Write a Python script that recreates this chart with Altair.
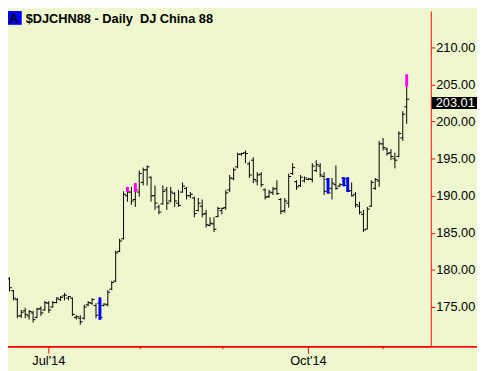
import json
import altair as alt
import pandas as pd

# ---- OHLC data (daily bars) ----
opens = [176.0, 177.6, 178.8, 177.2, 176.0, 173.8, 174.5, 173.8, 174.2, 173.6,
         174.8, 174.6, 175.5, 175.0, 175.6, 176.0, 176.5, 176.2, 176.2, 173.6,
         173.5, 173.5, 175.3, 175.5, 175.2, 175.5, 175.2, 175.3, 177.4, 178.5,
         182.5, 184.2, 190.0, 190.5, 189.5, 190.5, 191.8, 193.5, 192.5, 190.0,
         188.5, 188.9, 190.8, 189.3, 190.3, 189.0, 190.5, 191.0, 190.0, 189.7,
         188.0, 188.6, 187.6, 186.0, 186.2, 187.2, 188.0, 188.4, 190.8, 192.3,
         193.9, 195.6, 195.8, 194.3, 194.8, 192.0, 192.9, 190.8, 189.9, 190.4,
         191.0, 189.5, 188.0, 189.0, 193.0, 191.9, 191.4, 192.0, 192.2, 192.2,
         193.4, 194.0, 192.6, 192.2, 191.0, 191.5, 191.3, 192.4, 192.3, 190.7,
         190.2, 188.6, 187.5, 185.5, 188.6, 191.0, 192.0, 197.0, 196.3, 195.8,
         195.0, 195.3, 197.8, 202.0]
highs = [177.8, 179.4, 179.0, 177.3, 176.2, 174.6, 174.9, 174.6, 174.5, 174.9,
         175.1, 175.8, 175.8, 175.8, 176.3, 176.5, 176.9, 176.5, 176.3, 173.9,
         173.9, 175.3, 175.8, 176.2, 175.5, 176.3, 175.5, 177.3, 178.5, 182.6,
         184.2, 190.6, 191.2, 191.2, 191.7, 193.4, 193.8, 194.1, 192.6, 191.4,
         188.8, 191.4, 191.2, 191.2, 190.5, 190.8, 191.8, 191.2, 190.5, 189.9,
         189.7, 189.5, 188.1, 187.1, 187.1, 188.5, 188.4, 190.8, 192.8, 193.8,
         195.8, 195.8, 196.1, 194.6, 195.2, 193.2, 193.2, 191.0, 190.8, 191.2,
         192.1, 189.7, 189.7, 193.0, 194.4, 192.1, 192.8, 192.6, 192.4, 194.4,
         194.8, 194.4, 193.2, 192.4, 192.4, 194.1, 191.7, 192.5, 192.5, 191.8,
         190.5, 189.2, 188.1, 188.5, 192.1, 192.4, 197.4, 197.8, 196.5, 196.3,
         195.8, 198.7, 201.4, 204.7]
lows = [175.3, 177.5, 177.1, 175.9, 173.5, 173.5, 173.5, 173.3, 172.9, 173.5,
        173.8, 174.5, 174.2, 174.9, 175.5, 175.8, 175.9, 175.9, 173.8, 173.3,
        172.6, 173.3, 175.1, 175.3, 173.5, 173.3, 175.1, 175.1, 177.3, 178.4,
        182.4, 184.1, 189.2, 188.8, 188.5, 189.9, 191.4, 191.4, 189.2, 188.1,
        187.5, 188.8, 188.1, 189.1, 188.5, 188.5, 190.4, 189.5, 189.7, 187.1,
        187.9, 187.1, 185.7, 185.9, 185.1, 187.1, 187.5, 188.1, 190.5, 192.1,
        193.7, 195.4, 194.4, 192.4, 191.7, 191.4, 191.2, 189.5, 189.7, 190.1,
        190.1, 187.5, 187.7, 188.4, 192.8, 190.8, 191.2, 191.8, 192.1, 191.8,
        193.2, 192.5, 190.1, 190.3, 189.5, 190.8, 191.2, 191.3, 190.5, 189.9,
        188.4, 187.5, 185.1, 185.5, 188.5, 190.8, 191.2, 196.1, 195.4, 194.8,
        193.7, 195.2, 197.4, 199.7]
closes = [177.5, 178.6, 177.6, 176.2, 173.8, 174.3, 174.0, 174.4, 173.3, 174.7,
          174.2, 175.6, 174.6, 175.6, 176.2, 176.3, 176.6, 176.4, 174.0, 173.7,
          173.0, 175.0, 175.6, 176.0, 173.9, 173.6, 175.4, 177.0, 178.3, 182.3,
          183.9, 190.2, 190.5, 189.3, 190.8, 193.0, 193.5, 193.9, 190.0, 189.0,
          187.8, 190.6, 189.0, 190.5, 189.3, 188.7, 191.3, 190.0, 190.2, 187.6,
          189.0, 187.5, 186.1, 186.3, 185.5, 188.3, 188.3, 190.4, 192.4, 193.5,
          195.6, 195.7, 195.7, 192.8, 192.2, 192.8, 191.5, 189.8, 190.5, 190.9,
          190.3, 187.9, 189.3, 192.6, 193.8, 191.2, 192.5, 192.4, 192.3, 194.0,
          194.2, 192.8, 190.6, 190.4, 191.7, 191.0, 191.5, 191.4, 190.6, 190.0,
          188.8, 187.8, 185.4, 188.2, 191.8, 192.2, 197.0, 196.5, 195.7, 195.3,
          194.8, 198.4, 201.0, 203.01]

# coloured bar highlights
mark_idx = [25, 32, 34, 83, 87, 88, 103]
mark_top = [176.3, 191.2, 191.7, 192.4, 192.5, 192.5, 206.4]
mark_bottom = [173.3, 190.5, 190.5, 190.3, 191.3, 190.5, 204.7]
mark_color = ["#0000FF", "#FF00FF", "#FF00FF", "#0000FF", "#0000FF", "#0000FF", "#FF00FF"]

price_ticks = [175, 180, 185, 190, 195, 200, 205, 210]
major_tick_pos = [11.875, 77.875]
major_tick_labels = ["Jul'14", "Oct'14"]
minor_tick_pos = [35.25, 56.25, 97.0]
title_text = "$DJCHN88 - Daily\u00a0 DJ China 88"
badge_text = "A"

BG = "#EEF7CE"
RED = "#FF0000"
FONT = "Liberation Sans"
W, H = 430, 341

n = len(closes)
df = pd.DataFrame({"i": list(range(n)), "open": opens, "high": highs,
                   "low": lows, "close": closes})
df["xo"] = df["i"] - 0.625
df["xc"] = df["i"] + 0.625

mk = pd.DataFrame({"i": mark_idx, "top": mark_top, "bot": mark_bottom, "col": mark_color})
mk["x1"] = mk["i"] - 0.375
mk["x2"] = mk["i"] + 0.375

minor = pd.DataFrame({"pos": minor_tick_pos})

last = pd.DataFrame({"close": [closes[-1]]})
last["top"] = last["close"] + 0.3
last["bot"] = last["close"] - 1.3
last["mid"] = last["close"] - 0.5
last["label"] = last["close"].map(lambda v: f"{v:.2f}")

xs = alt.Scale(domain=[1.625, 109.125], nice=False, zero=False)
ys = alt.Scale(domain=[169.70, 214.91], nice=False, zero=False)

label_expr = (f"datum.value < {(major_tick_pos[0] + major_tick_pos[1]) / 2} ? "
              f"{json.dumps(major_tick_labels[0])} : {json.dumps(major_tick_labels[1])}")

xaxis = alt.Axis(orient="bottom", values=major_tick_pos, labelExpr=label_expr,
                 tickSize=7, tickColor=RED, domainColor=RED, grid=False, title=None,
                 labelFont=FONT, labelFontSize=13, labelColor="#000000",
                 labelPadding=2, labelFlush=False, labelOverlap=False)
yaxis = alt.Axis(orient="right", values=price_ticks, format=".2f", tickSize=4,
                 tickColor=RED, domainColor=RED, grid=False, title=None,
                 labelFont=FONT, labelFontSize=13, labelColor="#000000",
                 labelPadding=1, labelFlush=False, labelOverlap=False)

base = alt.Chart(df)

hl = base.mark_rule(color="#000000", strokeWidth=1, clip=True).encode(
    x=alt.X("i:Q", scale=xs, axis=xaxis),
    y=alt.Y("low:Q", scale=ys, axis=yaxis),
    y2="high:Q",
)
op = base.mark_rule(color="#000000", strokeWidth=1, clip=True).encode(
    x=alt.X("xo:Q", scale=xs, axis=xaxis),
    x2="i:Q",
    y=alt.Y("open:Q", scale=ys, axis=yaxis),
)
cl = base.mark_rule(color="#000000", strokeWidth=1, clip=True).encode(
    x=alt.X("i:Q", scale=xs, axis=xaxis),
    x2="xc:Q",
    y=alt.Y("close:Q", scale=ys, axis=yaxis),
)
marks = alt.Chart(mk).mark_rect(clip=True).encode(
    x=alt.X("x1:Q", scale=xs, axis=xaxis),
    x2="x2:Q",
    y=alt.Y("top:Q", scale=ys, axis=yaxis),
    y2="bot:Q",
    color=alt.Color("col:N", scale=None, legend=None),
)
minor_ticks = alt.Chart(minor).mark_rule(color=RED, strokeWidth=1).encode(
    x=alt.X("pos:Q", scale=xs, axis=xaxis),
    y=alt.value(H),
    y2=alt.value(H + 3),
)
bottom_line = alt.Chart(minor).mark_rule(color=RED, strokeWidth=1).encode(
    x=alt.value(0), x2=alt.value(W + 47), y=alt.value(H + 0.5),
)
price_box = alt.Chart(last).mark_rect(color="#000000").encode(
    x=alt.value(W + 1), x2=alt.value(W + 47),
    y=alt.Y("top:Q", scale=ys, axis=yaxis), y2="bot:Q",
)
price_txt = alt.Chart(last).mark_text(color="#FFFFFF", font=FONT, fontSize=13,
                                      align="left", baseline="middle").encode(
    x=alt.value(W + 5),
    y=alt.Y("mid:Q", scale=ys, axis=yaxis),
    text="label:N",
)
badge_box = alt.Chart(last).mark_rect(color="#0000FF").encode(
    x=alt.value(0), x2=alt.value(14), y=alt.value(0), y2=alt.value(14),
)
badge_txt = alt.Chart(last).mark_text(text=badge_text, color="#000000", font=FONT,
                                      fontSize=13, fontWeight="bold", align="center",
                                      baseline="alphabetic").encode(
    x=alt.value(6), y=alt.value(12),
)
title = alt.Chart(last).mark_text(text=title_text, color="#000000", font=FONT,
                                  fontSize=13, fontWeight="bold", align="left",
                                  baseline="alphabetic").encode(
    x=alt.value(18), y=alt.value(12),
)

chart = alt.layer(
    hl, op, cl, marks, minor_ticks, bottom_line, price_box, price_txt,
    badge_box, badge_txt, title,
).properties(
    width=W, height=H,
    autosize=alt.AutoSizeParams(type="none"),
    padding={"left": 0, "top": 0, "right": 47, "bottom": 22},
    background=BG,
).configure_view(stroke=None, fill=BG)

chart.save("out.html", embed_options={"renderer": "svg", "actions": False})
